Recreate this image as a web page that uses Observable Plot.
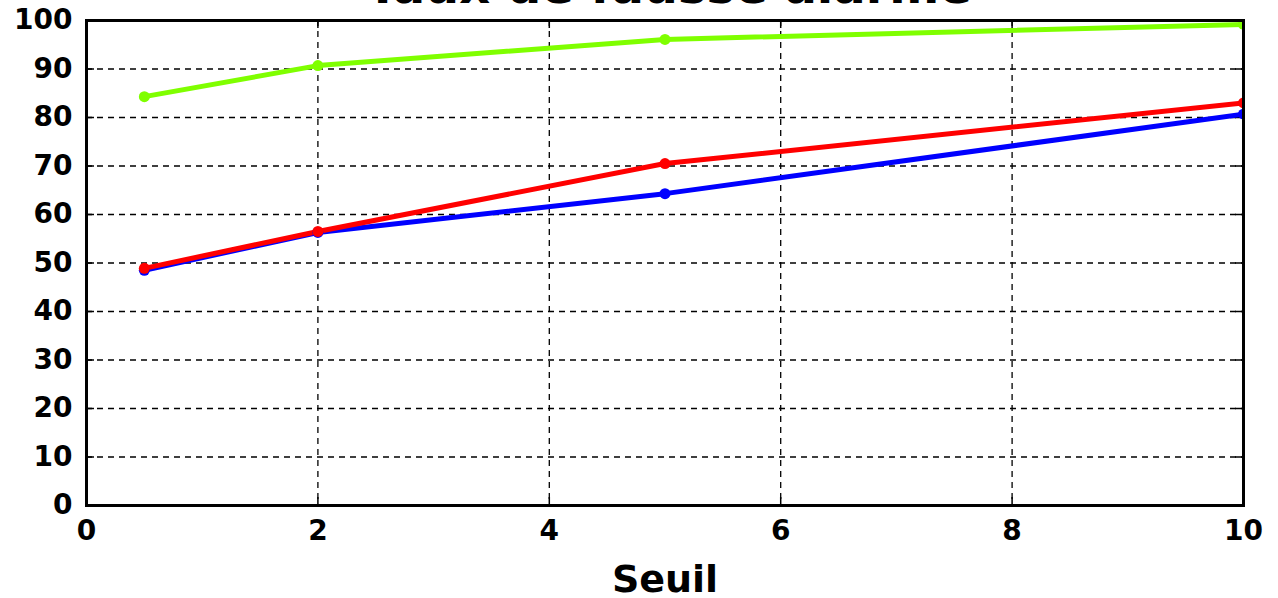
<!DOCTYPE html>
<html>
<head>
<meta charset="utf-8">
<script src="https://cdn.jsdelivr.net/npm/d3@7"></script>
<script src="https://cdn.jsdelivr.net/npm/@observablehq/plot@0.6"></script>
<style>
  html, body { margin: 0; padding: 0; background: white; overflow: hidden; }
  #chart svg { display: block; }
</style>
</head>
<body>
<div id="chart"></div>
<script>
const seuils = [0.5, 2, 5, 10];
const serieVert = [84.3, 90.7, 96.1, 99.2];
const serieRouge = [48.9, 56.5, 70.5, 83.0];
const serieBleu = [48.5, 56.3, 64.3, 80.7];
const xTicks = [0, 2, 4, 6, 8, 10];
const yTicks = [0, 10, 20, 30, 40, 50, 60, 70, 80, 90, 100];
const titre = "Taux de fausse alarme";
const xLabel = "Seuil";

const series = [
  {name: "bleu", color: "#0000ff", values: serieBleu},
  {name: "rouge", color: "#ff0000", values: serieRouge},
  {name: "vert", color: "#7fff00", values: serieVert}
];
const rows = series.flatMap(s => seuils.map((x, i) => ({serie: s.name, color: s.color, x, y: s.values[i]})));

const W = 1278, H = 598;
const mL = 86, mR = 35, mT = 20, mB = 93;
const fw = W - mL - mR, fh = H - mT - mB;
const tk = 8;
const font = "DejaVu Sans, sans-serif";

const chart = Plot.plot({
  width: W, height: H,
  marginLeft: mL, marginRight: mR, marginTop: mT, marginBottom: mB,
  style: {fontFamily: font, background: "white", color: "black"},
  x: {domain: [0, 10], axis: null},
  y: {domain: [0, 100], axis: null},
  marks: [
    Plot.gridX(xTicks, {stroke: "black", strokeOpacity: 1, strokeWidth: 1.3, strokeDasharray: "6,5"}),
    Plot.gridY(yTicks, {stroke: "black", strokeOpacity: 1, strokeWidth: 1.3, strokeDasharray: "6,5"}),
    Plot.tickY(yTicks, {y: d => d, stroke: "black", strokeWidth: 1.5, insetRight: fw - tk}),
    Plot.tickY(yTicks, {y: d => d, stroke: "black", strokeWidth: 1.5, insetLeft: fw - tk}),
    Plot.tickX(xTicks, {x: d => d, stroke: "black", strokeWidth: 1.5, insetTop: fh - tk}),
    Plot.tickX(xTicks, {x: d => d, stroke: "black", strokeWidth: 1.5, insetBottom: fh - tk}),
    ...series.map(s => Plot.line(rows.filter(r => r.serie === s.name), {x: "x", y: "y", stroke: s.color, strokeWidth: 5, clip: true})),
    ...series.map(s => Plot.dot(rows.filter(r => r.serie === s.name), {x: "x", y: "y", fill: s.color, r: 5.5, clip: true})),
    Plot.frame({stroke: "black", strokeWidth: 3}),
    Plot.axisY(yTicks, {tickSize: 0, tickPadding: 14, fontSize: 28, fontWeight: "bold", label: null, fill: "black", tickFormat: d3.format("d")}),
    Plot.axisX(xTicks, {tickSize: 0, tickPadding: 15, fontSize: 28, fontWeight: "bold", label: null, fill: "black", tickFormat: d3.format("d")}),
    Plot.text([xLabel], {text: d => d, frameAnchor: "bottom", dy: 86, lineAnchor: "bottom", fontSize: 38, fontWeight: "bold", fill: "black"}),
    Plot.text([titre], {text: d => d, frameAnchor: "top", dy: -18, dx: 4, lineAnchor: "bottom", fontSize: 48, fontWeight: "bold", fill: "black"})
  ]
});
document.getElementById("chart").appendChild(chart);
</script>
</body>
</html>
